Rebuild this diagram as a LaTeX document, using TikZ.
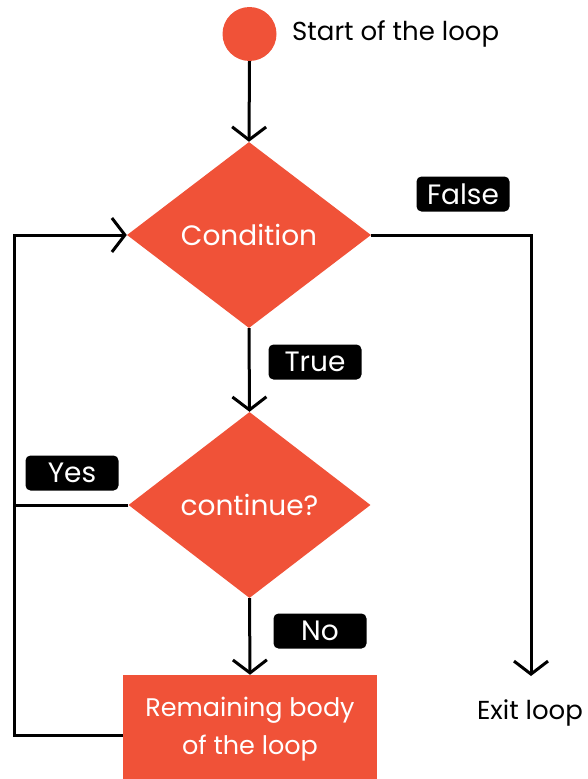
\documentclass[tikz,border=0pt]{standalone}
\usepackage{fontspec}
\setmainfont{Poppins}
\usetikzlibrary{shapes.geometric,arrows.meta}
\definecolor{flow}{RGB}{240,82,56}
\tikzset{
  every node/.style={font=\fontsize{26}{30}\selectfont},
  line/.style={line width=3pt, draw=black},
  arr/.style={line, -{Straight Barb[length=13pt,width=34pt]}},
  decision/.style={diamond, fill=flow, inner sep=0pt, minimum width=244pt, minimum height=186pt, text=white, font=\fontsize{28}{33}\selectfont},
  process/.style={rectangle, fill=flow, inner sep=0pt, minimum width=254pt, minimum height=108pt, text=white, align=center, font=\fontsize{25.5}{38}\selectfont},
  tag/.style={rectangle, rounded corners=5pt, fill=black, text=white, minimum width=93pt, minimum height=35pt, inner sep=0pt, font=\fontsize{28}{30}\selectfont},
  plain/.style={text=black, inner sep=0pt}
}
\begin{document}
\begin{tikzpicture}[x=1pt,y=-1pt]
\useasboundingbox (0,0) rectangle (587,779);
\node[circle, fill=flow, minimum size=54pt, inner sep=0pt] (start) at (249.5,34) {};
\node[plain, anchor=west] (starttxt) at (292,34) {Start of the loop};
\node[decision] (cond) at (249,235) {Condition};
\node[decision, minimum width=242pt] (cont) at (249.5,505) {continue?};
\node[process] (box) at (250,729) {Remaining body\\of the loop};
\node[tag] (false) at (463,194) {False};
\node[tag] (true) at (315,362) {True};
\node[tag] (yes) at (72,473) {Yes};
\node[tag] (no) at (320,631) {No};
\node[plain] (exit) at (530,713) {Exit loop};
\coordinate (exitend) at (531,676);
\draw[arr] (start.south) -- (cond.north);
\draw[arr] (cond.south) -- (cont.north);
\draw[arr] (cont.south) -- (box.north);
\draw[arr] (cond.east) -| (exitend);
\draw[arr] ([yshift=-6pt]box.west) -- ++(-108,0) |- (cond.west);
\draw[line] (cont.west) -- ++(-114.5,0);
\end{tikzpicture}
\end{document}
